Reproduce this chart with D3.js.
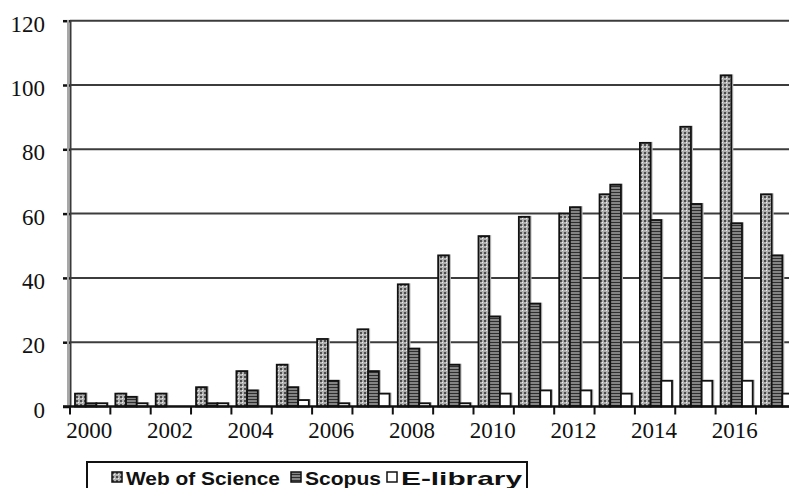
<!DOCTYPE html>
<html>
<head>
<meta charset="utf-8">
<script src="https://cdn.jsdelivr.net/npm/d3@7"></script>
</head>
<body style="margin:0">
<script>
// Publications per year in three bibliographic databases
const years = ["2000","2001","2002","2003","2004","2005","2006","2007","2008",
               "2009","2010","2011","2012","2013","2014","2015","2016","2017"];
const webOfScience = [4, 4, 4, 6, 11, 13, 21, 24, 38, 47, 53, 59, 60, 66, 82, 87, 103, 66];
const scopus       = [1, 3, 0, 1, 5, 6, 8, 11, 18, 13, 28, 32, 62, 69, 58, 63, 57, 47];
const eLibrary     = [1, 1, 0, 1, 0, 2, 1, 4, 1, 1, 4, 5, 5, 4, 8, 8, 8, 4];
const yTicks = [0, 20, 40, 60, 80, 100, 120];
const xTickLabels = ["2000","2002","2004","2006","2008","2010","2012","2014","2016"];
const seriesNames = ["Web of Science", "Scopus", "E-library"];

const SERIF = "Liberation Serif";
const SANS = "Liberation Sans";

const W = 789, H = 488;
const svg = d3.select("body").append("svg").attr("width", W).attr("height", H)
  .style("display", "block");

// hatch fills for the three series
const defs = svg.append("defs");
const pW = defs.append("pattern").attr("id", "pWos").attr("patternUnits", "userSpaceOnUse")
  .attr("width", 4).attr("height", 4);
pW.append("rect").attr("width", 4).attr("height", 4).attr("fill", "#b0b0b0");
pW.append("rect").attr("width", 2).attr("height", 2).attr("fill", "#4c4c4c");
pW.append("rect").attr("x", 2).attr("y", 2).attr("width", 1).attr("height", 1).attr("fill", "#eeeeee");

const pS = defs.append("pattern").attr("id", "pSco").attr("patternUnits", "userSpaceOnUse")
  .attr("width", 4).attr("height", 3);
pS.append("rect").attr("width", 4).attr("height", 3).attr("fill", "#848484");
pS.append("rect").attr("width", 4).attr("height", 1).attr("fill", "#2e2e2e");

const fills = ["url(#pWos)", "url(#pSco)", "#ffffff"];

const x = d3.scaleBand().domain(years).range([70, 796.3]).paddingInner(0).paddingOuter(0);
const y = d3.scaleLinear().domain([0, 120]).range([406.5, 20.7]);

// horizontal grid
svg.append("g").selectAll("line").data(yTicks.filter(v => v > 0)).join("line")
  .attr("x1", 70).attr("x2", W)
  .attr("y1", d => y(d)).attr("y2", d => y(d))
  .attr("stroke", "#3c3c3c").attr("stroke-width", 2);

// y axis: ticks from d3, labels placed as plain serif text
const yAxis = svg.append("g").attr("transform", "translate(70,0)")
  .call(d3.axisLeft(y).tickValues(yTicks).tickSize(7).tickFormat(""));
yAxis.select(".domain").remove();
yAxis.selectAll(".tick line").attr("stroke", "#111").attr("stroke-width", 2.5);
svg.append("g").selectAll("text").data(yTicks).join("text")
  .attr("font-family", SERIF).attr("font-size", 23).attr("fill", "#111")
  .attr("x", 45).attr("y", d => y(d) + 11)
  .attr("text-anchor", "end")
  .text(d => d);
svg.append("line").attr("x1", 68).attr("x2", 68).attr("y1", 20).attr("y2", 407)
  .attr("stroke", "#a8a8a8").attr("stroke-width", 2);
svg.append("line").attr("x1", 70.5).attr("x2", 70.5).attr("y1", 20).attr("y2", 407)
  .attr("stroke", "#3a3a3a").attr("stroke-width", 2);

// bars
const bw = 10.7, off = 5;
const seriesData = [webOfScience, scopus, eLibrary];
const barsG = svg.append("g");
seriesData.forEach((vals, si) => {
  const g = barsG.append("g");
  // soft drop shade
  g.selectAll("rect.sh").data(vals).join("rect").attr("class", "sh")
    .attr("x", (d, i) => x(years[i]) + off + si * bw + 2)
    .attr("y", d => y(d) - 1)
    .attr("width", bw)
    .attr("height", d => y(0) - y(d) + 1)
    .attr("fill", "#bdbdbd");
  g.selectAll("rect.bar").data(vals).join("rect").attr("class", "bar")
    .attr("x", (d, i) => x(years[i]) + off + si * bw)
    .attr("y", d => y(d))
    .attr("width", bw)
    .attr("height", d => y(0) - y(d))
    .attr("fill", fills[si])
    .attr("stroke", "#111").attr("stroke-width", 1.8);
});

// x axis line and ticks at category boundaries
svg.append("line").attr("x1", 63).attr("x2", W).attr("y1", y(0)).attr("y2", y(0))
  .attr("stroke", "#111").attr("stroke-width", 2.5);
const bounds = years.map(d => x(d));
svg.append("g").selectAll("line").data(bounds).join("line")
  .attr("x1", d => d).attr("x2", d => d)
  .attr("y1", y(0)).attr("y2", y(0) + 8)
  .attr("stroke", "#111").attr("stroke-width", 2);
svg.append("g").selectAll("text").data(xTickLabels).join("text")
  .attr("font-family", SERIF).attr("font-size", 23).attr("fill", "#111")
  .attr("x", d => x(d) + x.bandwidth() / 2 - 1)
  .attr("y", 438)
  .attr("text-anchor", "middle")
  .text(d => d);

// legend
const lg = svg.append("g");
lg.append("rect").attr("x", 87).attr("y", 462).attr("width", 440).attr("height", 40)
  .attr("fill", "#fff").attr("stroke", "#111").attr("stroke-width", 2);
const legendItems = [
  { name: seriesNames[0], mx: 112, tx: 126, tw: 154 },
  { name: seriesNames[1], mx: 291, tx: 305, tw: 76 },
  { name: seriesNames[2], mx: 387, tx: 401, tw: 121 }
];
legendItems.forEach((it, i) => {
  lg.append("rect").attr("x", it.mx).attr("y", 472).attr("width", 10).attr("height", 10)
    .attr("fill", i === 2 ? "#fff" : fills[i]).attr("stroke", "#111").attr("stroke-width", 1.5);
  lg.append("text").attr("x", it.tx).attr("y", 485)
    .attr("font-family", SANS).attr("font-weight", "bold").attr("font-size", 19).attr("fill", "#111")
    .attr("textLength", it.tw).attr("lengthAdjust", "spacingAndGlyphs")
    .text(it.name);
});
</script>
</body>
</html>
